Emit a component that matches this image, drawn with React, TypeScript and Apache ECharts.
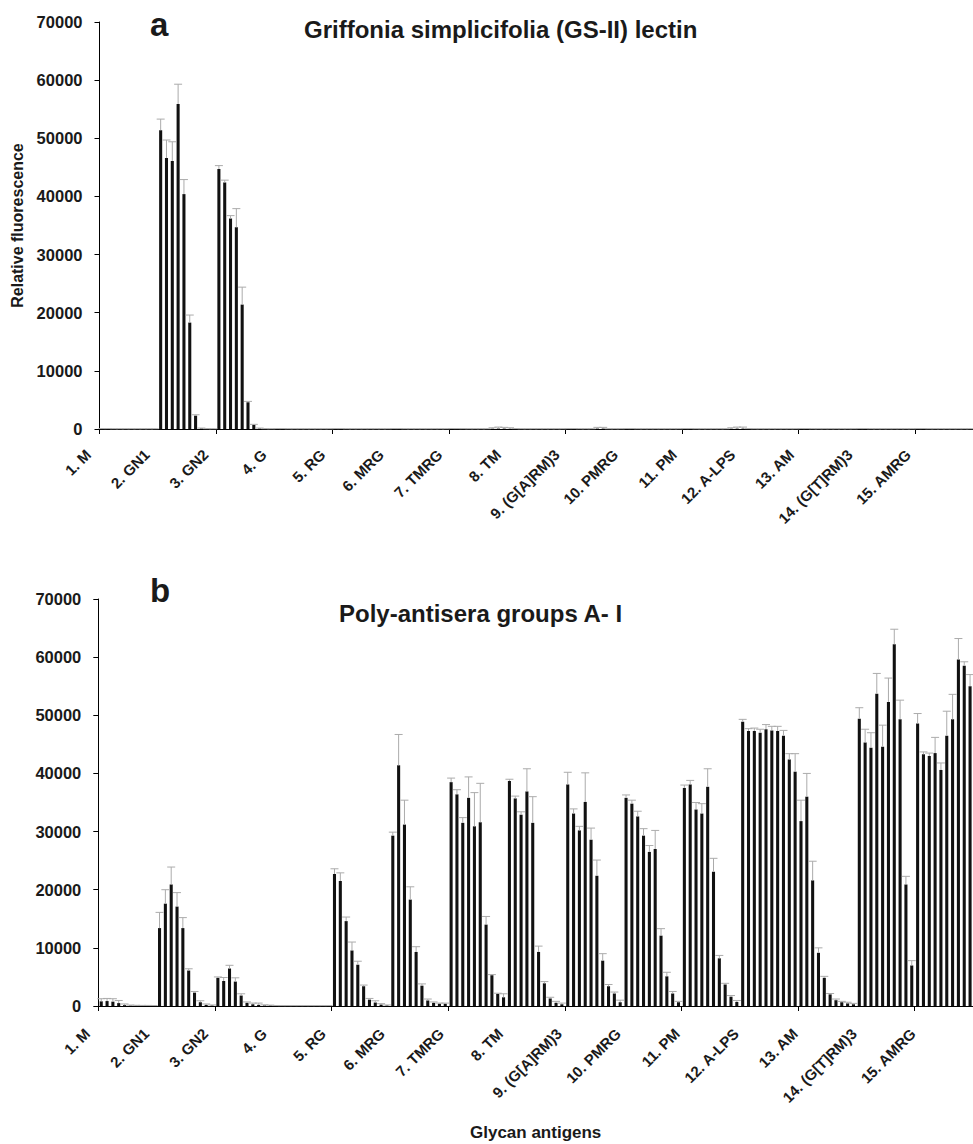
import React, { useEffect, useRef } from "react";
import * as echarts from "echarts";

const categories = [
  "1. M", "2. GN1", "3. GN2", "4. G", "5. RG", "6. MRG", "7. TMRG", "8. TM",
  "9. (G[A]RM)3", "10. PMRG", "11. PM", "12. A-LPS", "13. AM", "14. (G[T]RM)3", "15. AMRG",
];

// Panel a: GS-II lectin, 10 dilutions per antigen
const lectinMeans = [
  [40, 40, 30, 30, 30, 30, 30, 30, 30, 30],
  [51400, 46600, 46100, 55900, 40400, 18300, 2300, 100, 40, 30],
  [44700, 42400, 36200, 34700, 21400, 4600, 700, 100, 40, 30],
  [40, 40, 30, 30, 30, 30, 30, 30, 30, 30],
  [40, 40, 30, 30, 30, 30, 30, 30, 30, 30],
  [40, 40, 30, 30, 30, 30, 30, 30, 30, 30],
  [50, 40, 40, 30, 30, 30, 30, 60, 80, 80],
  [60, 40, 30, 30, 30, 30, 30, 30, 30, 30],
  [40, 40, 30, 30, 30, 80, 80, 30, 30, 30],
  [40, 40, 30, 30, 30, 30, 30, 30, 30, 30],
  [40, 40, 30, 30, 30, 30, 30, 30, 60, 80],
  [80, 40, 30, 30, 30, 30, 30, 30, 30, 30],
  [40, 40, 30, 30, 30, 30, 30, 30, 30, 30],
  [40, 40, 30, 30, 30, 30, 30, 30, 30, 30],
  [40, 40, 30, 30, 30, 30, 30, 30, 30, 30],
];
const lectinErrors = [
  [30, 30, 20, 20, 20, 20, 20, 20, 20, 20],
  [1900, 3100, 3300, 3400, 2500, 1300, 150, 60, 20, 20],
  [600, 400, 500, 3200, 3000, 150, 100, 60, 20, 20],
  [30, 30, 20, 20, 20, 20, 20, 20, 20, 20],
  [30, 30, 20, 20, 20, 20, 20, 20, 20, 20],
  [30, 30, 20, 20, 20, 20, 20, 20, 20, 20],
  [30, 30, 20, 20, 20, 20, 20, 150, 250, 200],
  [150, 30, 20, 20, 20, 20, 20, 20, 20, 20],
  [30, 30, 20, 20, 20, 200, 200, 20, 20, 20],
  [30, 30, 20, 20, 20, 20, 20, 20, 20, 20],
  [30, 30, 20, 20, 20, 20, 20, 20, 150, 250],
  [250, 30, 20, 20, 20, 20, 20, 20, 20, 20],
  [30, 30, 20, 20, 20, 20, 20, 20, 20, 20],
  [30, 30, 20, 20, 20, 20, 20, 20, 20, 20],
  [30, 30, 20, 20, 20, 20, 20, 20, 20, 20],
];

// Panel b: poly-antisera groups A-I, 10 dilutions per antigen
const antiseraMeans = [
  [800, 850, 750, 500, 150, 80, 60, 50, 50, 40],
  [13400, 17600, 20900, 17100, 13400, 6100, 2300, 650, 200, 100],
  [4850, 4300, 6450, 4200, 1800, 550, 300, 200, 100, 100],
  [50, 40, 40, 40, 40, 40, 40, 40, 40, 40],
  [22700, 21500, 14600, 9550, 7100, 3400, 1100, 600, 250, 100],
  [29300, 41400, 31200, 18300, 9300, 3500, 950, 550, 400, 400],
  [38500, 36400, 31500, 35800, 30900, 31600, 14000, 5300, 2100, 1500],
  [38700, 35700, 32900, 36900, 31500, 9300, 3900, 1300, 550, 300],
  [38100, 33100, 30200, 35100, 28600, 22400, 7800, 3400, 2150, 650],
  [35800, 34800, 32600, 29300, 26500, 27000, 12100, 5100, 2150, 650],
  [37500, 38100, 33800, 33100, 37700, 23100, 8200, 3700, 1600, 700],
  [48900, 47300, 47300, 47000, 47600, 47400, 47300, 46500, 42400, 40300],
  [31800, 36000, 21600, 9150, 4850, 2000, 1000, 650, 450, 300],
  [49400, 45300, 44400, 53700, 44600, 52300, 62200, 49300, 20900, 6970],
  [48600, 43300, 43000, 43500, 40600, 46500, 49300, 59600, 58500, 55000],
];
const antiseraErrors = [
  [450, 450, 500, 450, 200, 80, 60, 50, 50, 40],
  [2700, 2400, 3000, 2400, 1800, 300, 200, 250, 150, 80],
  [150, 600, 550, 650, 300, 150, 200, 300, 100, 50],
  [30, 30, 30, 30, 30, 30, 30, 30, 30, 30],
  [900, 1400, 700, 1450, 600, 200, 200, 300, 150, 80],
  [600, 5300, 4200, 2200, 900, 300, 250, 150, 100, 100],
  [700, 800, 900, 3600, 5800, 6700, 1400, 100, 100, 600],
  [300, 400, 500, 3900, 4500, 1000, 300, 200, 250, 200],
  [2100, 800, 700, 5000, 2000, 2700, 1200, 300, 250, 350],
  [500, 600, 900, 1200, 1100, 3200, 1200, 700, 350, 150],
  [500, 700, 1200, 1700, 3100, 2300, 500, 200, 200, 250],
  [400, 400, 500, 600, 800, 700, 800, 900, 1000, 3100],
  [3600, 4000, 3300, 850, 250, 150, 200, 150, 200, 150],
  [1900, 2300, 2600, 3500, 3700, 4100, 2600, 3300, 1400, 830],
  [1700, 400, 500, 2700, 1200, 4200, 4300, 3600, 700, 2000],
];

const DILUTIONS = 10;
const BAR_GAP = 0.9;
const CAT_GAP = 0.048;
const FONT = "'Liberation Sans', Arial, Helvetica, sans-serif";
const TEXT = "#1a1a1a";

function errData(means: number[][], errs: number[][]) {
  const out: number[][] = [];
  means.forEach((row, c) => row.forEach((m, d) => out.push([c, d, m, errs[c][d]])));
  return out;
}

function renderErr(params: any, api: any) {
  const c = api.value(0);
  const d = api.value(1);
  const m = api.value(2);
  const e = api.value(3);
  const center = api.coord([c, 0]);
  const band = api.size([1, 0])[0];
  const w = (band * (1 - CAT_GAP)) / (DILUTIONS + (DILUTIONS - 1) * BAR_GAP);
  const s = w * (1 + BAR_GAP);
  const x = center[0] + (d - (DILUTIONS - 1) / 2) * s;
  const y0 = api.coord([c, m])[1];
  const y1 = api.coord([c, m + e])[1];
  const style = { stroke: "#ababab", lineWidth: 1, fill: null };
  return {
    type: "group",
    children: [
      { type: "line", shape: { x1: x, y1: y0, x2: x, y2: y1 }, style },
      { type: "line", shape: { x1: x - 4, y1: y1, x2: x + 4, y2: y1 }, style },
    ],
  };
}

function barSeries(means: number[][], axis: number) {
  const list: any[] = [];
  for (let d = 0; d < DILUTIONS; d++) {
    list.push({
      type: "bar",
      xAxisIndex: axis,
      yAxisIndex: axis,
      data: means.map((row) => row[d]),
      itemStyle: { color: "#111" },
      barGap: BAR_GAP * 100 + "%",
      barCategoryGap: CAT_GAP * 100 + "%",
      silent: true,
    });
  }
  return list;
}

const grids = [
  { left: 99.5, top: 22, width: 878.5, height: 407 },
  { left: 98.3, top: 599, width: 884.6, height: 407 },
];
const LABEL_SHIFT = 40.5;

export default function App() {
  const ref = useRef<HTMLDivElement>(null);
  useEffect(() => {
    if (!ref.current) return;
    const chart = echarts.init(ref.current, null, { renderer: "svg" });

    const mainX = (gi: number, extra: any = {}) => ({
      type: "category",
      gridIndex: gi,
      data: categories,
      axisLine: { lineStyle: { color: "#000", width: 1 } },
      axisTick: { show: true, length: 5, alignWithLabel: false, lineStyle: { color: "#000" } },
      axisLabel: { show: false },
      splitLine: { show: false },
      ...extra,
    });
    const labelX = (gi: number, margin: number) => ({
      type: "category",
      gridIndex: gi,
      data: categories,
      axisLine: { show: false },
      axisTick: { show: false },
      axisLabel: { rotate: 45, interval: 0, margin, fontSize: 15, fontWeight: "bold", color: TEXT, fontFamily: FONT },
      splitLine: { show: false },
    });
    const mainY = (gi: number, extra: any = {}) => ({
      type: "value",
      gridIndex: gi,
      min: 0,
      max: 70000,
      interval: 10000,
      axisLine: { show: true, lineStyle: { color: "#000", width: 1 } },
      axisTick: { show: true, length: 5, lineStyle: { color: "#000" } },
      splitLine: { show: false },
      axisLabel: {
        fontSize: 16.5,
        fontWeight: "bold",
        color: TEXT,
        margin: 17,
        fontFamily: FONT,
        formatter: (v: number) => String(v),
      },
      ...extra,
    });
    const hiddenY = (gi: number) => ({ type: "value", gridIndex: gi, show: false, min: 0, max: 1 });
    const titleStyle = (size: number) => ({ fontSize: size, fontWeight: "bold", color: TEXT, fontFamily: FONT });

    chart.setOption({
      animation: false,
      textStyle: { fontFamily: FONT },
      title: [
        { text: "a", left: 150, top: 8, padding: 0, textStyle: titleStyle(33) },
        { text: "Griffonia simplicifolia (GS-II) lectin", left: 304, top: 17, padding: 0, textStyle: titleStyle(24) },
        { text: "b", left: 150, top: 574, padding: 0, textStyle: titleStyle(33) },
        { text: "Poly-antisera groups A- I", left: 339, top: 601, padding: 0, textStyle: titleStyle(24) },
      ],
      grid: [
        grids[0],
        grids[1],
        { ...grids[0], left: grids[0].left - LABEL_SHIFT },
        { ...grids[1], left: grids[1].left - LABEL_SHIFT },
      ],
      xAxis: [
        mainX(0),
        mainX(1, {
          name: "Glycan antigens",
          nameLocation: "middle",
          nameGap: 118,
          nameTextStyle: { fontSize: 17, fontWeight: "bold", color: TEXT, fontFamily: FONT },
        }),
        labelX(2, 23),
        labelX(3, 25),
      ],
      yAxis: [
        mainY(0, {
          name: "Relative fluorescence",
          nameLocation: "middle",
          nameRotate: 90,
          nameGap: 72,
          nameTextStyle: { fontSize: 16, fontWeight: "bold", color: TEXT, fontFamily: FONT },
        }),
        mainY(1),
        hiddenY(2),
        hiddenY(3),
      ],
      series: [
        ...barSeries(lectinMeans, 0),
        ...barSeries(antiseraMeans, 1),
        {
          type: "custom",
          xAxisIndex: 0,
          yAxisIndex: 0,
          data: errData(lectinMeans, lectinErrors),
          renderItem: renderErr,
          encode: { x: 0, y: 2 },
          z: 5,
          silent: true,
        },
        {
          type: "custom",
          xAxisIndex: 1,
          yAxisIndex: 1,
          data: errData(antiseraMeans, antiseraErrors),
          renderItem: renderErr,
          encode: { x: 0, y: 2 },
          z: 5,
          silent: true,
        },
      ],
    });
    return () => chart.dispose();
  }, []);

  return (
    <div
      ref={ref}
      style={{ position: "absolute", left: 0, top: 0, width: 973, height: 1144, background: "#fff" }}
    />
  );
}
